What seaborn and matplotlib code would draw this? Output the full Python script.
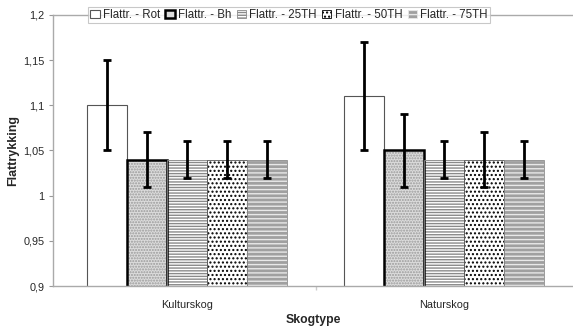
import matplotlib
matplotlib.use("Agg")
import matplotlib.pyplot as plt
from matplotlib.patches import Rectangle, Patch
import seaborn as sns
import pandas as pd

# Data
categories = ["Kulturskog", "Naturskog"]
series = ["Flattr. - Rot", "Flattr. - Bh", "Flattr. - 25TH", "Flattr. - 50TH", "Flattr. - 75TH"]

rot = [1.10, 1.11]
rot_lo = [1.05, 1.05]
rot_hi = [1.15, 1.17]

bh = [1.04, 1.05]
bh_lo = [1.01, 1.01]
bh_hi = [1.07, 1.09]

th25 = [1.04, 1.04]
th25_lo = [1.02, 1.02]
th25_hi = [1.06, 1.06]

th50 = [1.04, 1.04]
th50_lo = [1.02, 1.01]
th50_hi = [1.06, 1.07]

th75 = [1.04, 1.04]
th75_lo = [1.02, 1.02]
th75_hi = [1.06, 1.06]

y_ticks = [0.9, 0.95, 1.0, 1.05, 1.1, 1.15, 1.2]
y_ticklabels = ["0,9", "0,95", "1", "1,05", "1,1", "1,15", "1,2"]

values = [rot, bh, th25, th50, th75]
lows = [rot_lo, bh_lo, th25_lo, th50_lo, th75_lo]
highs = [rot_hi, bh_hi, th25_hi, th50_hi, th75_hi]

rows = []
for s, vals in zip(series, values):
    for c, v in zip(categories, vals):
        rows.append({"Skogtype": c, "series": s, "Flattrykking": v})
df = pd.DataFrame(rows)

sns.set_theme(style="white")
plt.rcParams["font.family"] = ["Liberation Sans", "DejaVu Sans"]
plt.rcParams["hatch.linewidth"] = 1.0

# fill, hatch colour, hatch, outline colour, outline width
styles = [
    ("white", "white", None, "#555555", 0.8),
    ("#dcdcdc", "#9a9a9a", "......", "black", 1.8),
    ("white", "#8a8a8a", "------", "#8a8a8a", 0.6),
    ("white", "black", "....", "#555555", 0.6),
    ("#a0a0a0", "#e8e8e8", "----", "#8a8a8a", 0.6),
]

fig = plt.figure(figsize=(5.73, 3.29), dpi=100)
ax = fig.add_axes([53 / 573, 1 - 286 / 329, 1 - 53 / 573, (286 - 15) / 329])

sns.barplot(data=df, x="Skogtype", y="Flattrykking", hue="series",
            order=categories, hue_order=series, errorbar=None,
            width=0.777, dodge=True, legend=False, ax=ax, gap=0)

bar_containers = list(ax.containers)
for i, cont in enumerate(bar_containers):
    fc, hc, hatch, oc, lw = styles[i]
    for j, bar in enumerate(cont):
        bar.set_facecolor(fc)
        bar.set_edgecolor(hc)
        bar.set_linewidth(0)
        if hatch:
            bar.set_hatch(hatch)
        x0, w = bar.get_x(), bar.get_width()
        y0, h = bar.get_y(), bar.get_height()
        ax.add_patch(Rectangle((x0, y0), w, h, fill=False, edgecolor=oc,
                               linewidth=lw, zorder=bar.get_zorder() + 0.1))
        xc = x0 + w / 2
        v = values[i][j]
        ax.errorbar([xc], [v], yerr=[[v - lows[i][j]], [highs[i][j] - v]],
                    fmt="none", ecolor="black", elinewidth=2.0,
                    capsize=3, capthick=2.0, zorder=5)

ax.set_ylim(0.9, 1.2)
ax.set_xlim(-0.52, 1.5)
ax.set_yticks(y_ticks)
ax.set_yticklabels(y_ticklabels)
ax.tick_params(axis="y", labelsize=7.8, length=3, width=0.8, color="#999999",
               direction="out", pad=3, left=True)
ax.tick_params(axis="x", labelsize=7.8, length=0, pad=10)
ax.set_xticks([0.5], minor=True)
ax.tick_params(axis="x", which="minor", length=3, color="#cccccc", bottom=True)

for side in ["left", "bottom", "top"]:
    ax.spines[side].set_visible(True)
    ax.spines[side].set_color("#aaaaaa")
    ax.spines[side].set_linewidth(1.0)
ax.spines["right"].set_visible(False)

ax.set_xlabel("Skogtype", fontsize=8.8, fontweight="bold", labelpad=3)
ax.set_ylabel("Flattrykking", fontsize=9, fontweight="bold")
ax.yaxis.set_label_coords(-(53 - 19) / 520, 0.5)

handles = []
for fc, hc, hatch, oc, lw in styles:
    handles.append(Patch(facecolor=fc, edgecolor=oc if hatch is None else hc,
                         hatch=hatch, linewidth=lw))
handles[1] = Patch(facecolor="#dcdcdc", edgecolor="black", linewidth=1.8)
leg = fig.legend(handles, series, loc="center", bbox_to_anchor=(289 / 573, 1 - 15 / 329),
                 ncol=5, fontsize=8.3, frameon=True, fancybox=False,
                 handlelength=0.8, handleheight=0.8, handletextpad=0.3,
                 columnspacing=0.45, borderpad=0.2, borderaxespad=0)
leg.get_frame().set_edgecolor("#bbbbbb")
leg.get_frame().set_linewidth(0.8)
leg.get_frame().set_facecolor("white")

fig.savefig("out.png", dpi=100)
